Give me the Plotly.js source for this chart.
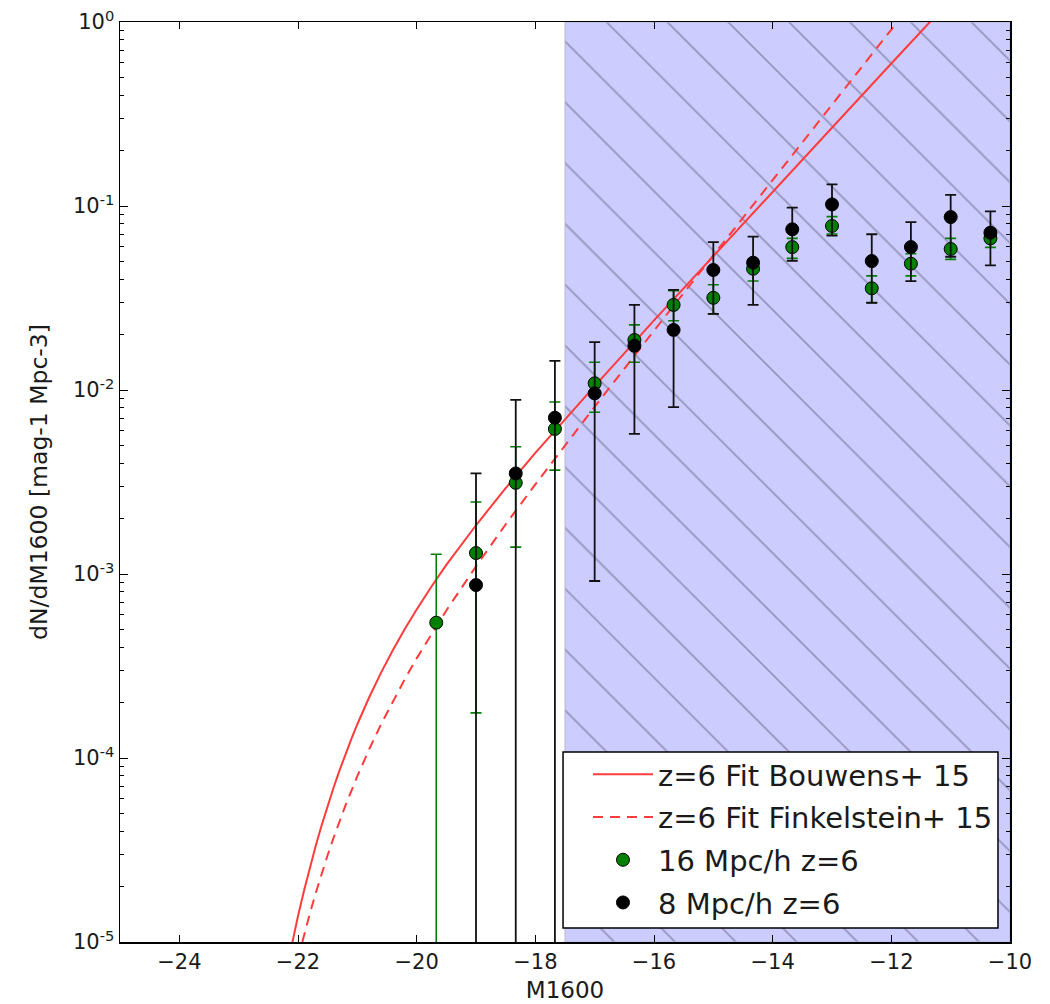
<!DOCTYPE html>
<html>
<head>
<meta charset="utf-8">
<script src="https://cdn.plot.ly/plotly-3.0.1.min.js"></script>
<style>html,body{margin:0;padding:0;background:#fff;}#chart{width:1050px;height:1004px;}</style>
</head>
<body>
<div id="chart"></div>
<script>
// Magnitude bins of the simulated luminosity functions
const M_bins = [-19.67, -19.0, -18.33, -17.67, -17.0, -16.33, -15.67, -15.0, -14.33, -13.67, -13.0, -12.33, -11.67, -11.0, -10.33];

// 16 Mpc/h z=6 (green)
const phi16    = [5.44e-4, 1.30e-3, 3.13e-3, 6.14e-3, 1.087e-2, 1.87e-2, 2.90e-2, 3.17e-2, 4.56e-2, 5.98e-2, 7.79e-2, 3.57e-2, 4.86e-2, 5.84e-2, 6.67e-2];
const phi16_hi = [1.28e-3, 2.46e-3, 4.92e-3, 8.6e-3, 1.415e-2, 2.26e-2, 3.47e-2, 3.73e-2, 5.1e-2, 6.67e-2, 8.75e-2, 4.17e-2, 5.5e-2, 6.67e-2, 7.4e-2];
const phi16_lo = [1e-8, 1.76e-4, 1.40e-3, 3.67e-3, 7.57e-3, 1.415e-2, 2.38e-2, 2.59e-2, 3.91e-2, 5.2e-2, 7.04e-2, 2.98e-2, 4.17e-2, 5.13e-2, 5.96e-2];

// 8 Mpc/h z=6 (black)
const phi8    = [null, 8.71e-4, 3.52e-3, 7.07e-3, 9.59e-3, 1.74e-2, 2.12e-2, 4.49e-2, 4.92e-2, 7.47e-2, 0.102, 5.02e-2, 5.98e-2, 8.71e-2, 7.16e-2];
const phi8_hi = [null, 3.52e-3, 8.83e-3, 1.44e-2, 1.82e-2, 2.9e-2, 3.5e-2, 6.37e-2, 6.81e-2, 9.8e-2, 0.131, 7.02e-2, 8.18e-2, 0.1148, 9.36e-2];
const phi8_lo = [null, 1e-8, 1e-8, 1e-8, 9.16e-4, 5.77e-3, 8.08e-3, 2.59e-2, 2.9e-2, 5.04e-2, 6.9e-2, 2.98e-2, 3.91e-2, 5.3e-2, 4.76e-2];

// z=6 fit, Bouwens+ 15
const M_bouwens   = [-22.2, -22.1, -22.0, -21.9, -21.8, -21.7, -21.6, -21.5, -21.4, -21.3, -21.2, -21.1, -21.0, -20.8, -20.6, -20.4, -20.2, -20.0, -19.75, -19.5, -19.0, -18.5, -18.0, -17.5, -17.0, -16.0, -15.0, -14.0, -13.0, -12.0, -11.3];
const phi_bouwens = [6.89e-6, 9.89e-6, 1.384e-5, 1.895e-5, 2.541e-5, 3.342e-5, 4.322e-5, 5.51e-5, 6.91e-5, 8.57e-5, 1.049e-4, 1.271e-4, 1.526e-4, 2.139e-4, 2.911e-4, 3.864e-4, 5.02e-4, 6.42e-4, 8.55e-4, 1.12e-3, 1.84e-3, 2.93e-3, 4.55e-3, 6.95e-3, 1.05e-2, 2.39e-2, 5.35e-2, 0.120, 0.267, 0.595, 1.04];

// z=6 fit, Finkelstein+ 15
const M_finkel   = [-22.0, -21.9, -21.8, -21.7, -21.6, -21.5, -21.4, -21.3, -21.2, -21.0, -20.8, -20.6, -20.4, -20.2, -20.0, -19.75, -19.5, -19.0, -18.5, -18.0, -17.5, -17.0, -16.0, -15.0, -14.0, -13.0, -12.0, -11.8];
const phi_finkel = [8.15e-6, 1.089e-5, 1.429e-5, 1.85e-5, 2.357e-5, 2.97e-5, 3.687e-5, 4.535e-5, 5.52e-5, 7.97e-5, 1.116e-4, 1.526e-4, 2.041e-4, 2.684e-4, 3.48e-4, 4.73e-4, 6.34e-4, 1.10e-3, 1.86e-3, 3.07e-3, 5.0e-3, 8.11e-3, 2.10e-2, 5.41e-2, 0.139, 0.355, 0.91, 1.10];

// Shaded (unresolved) magnitude range
const shade_M   = [-17.5, -10.0];
const shade_phi = [1e-5, 1.0];

// Axis ticks
const x_ticks = [-24, -22, -20, -18, -16, -14, -12, -10];
const y_ticks = [1e-5, 1e-4, 1e-3, 1e-2, 1e-1, 1];
const y_ticktext = ['10<sup>-5</sup>', '10<sup>-4</sup>', '10<sup>-3</sup>', '10<sup>-2</sup>', '10<sup>-1</sup>', '10<sup>0</sup>'];

const minorVals = [];
for (let e = -5; e < 0; e++) for (let k = 2; k <= 9; k++) minorVals.push(k * Math.pow(10, e));

const plus = (hi, y) => hi.map((h, i) => (h == null || y[i] == null) ? null : h - y[i]);
const minus = (lo, y) => lo.map((l, i) => (l == null || y[i] == null) ? null : y[i] - l);

const FONT = 'DejaVu Sans, sans-serif';
const TXT = '#1a1a1a';

const traces = [
  {
    x: [shade_M[0], shade_M[1], shade_M[1], shade_M[0], shade_M[0]],
    y: [shade_phi[0], shade_phi[0], shade_phi[1], shade_phi[1], shade_phi[0]],
    type: 'scatter', mode: 'lines', fill: 'toself',
    fillcolor: '#ccccff',
    fillpattern: {shape: '\\', size: 43, solidity: 0.04, fgcolor: '#9494bb', bgcolor: '#ccccff', fillmode: 'replace'},
    line: {color: '#b8b8d0', width: 1},
    showlegend: false, hoverinfo: 'skip'
  },
  {
    x: M_bouwens, y: phi_bouwens, type: 'scatter', mode: 'lines',
    name: 'z=6 Fit Bouwens+ 15', legendgroup: 'a',
    line: {color: '#ff3b3b', width: 2}
  },
  {
    x: M_finkel, y: phi_finkel, type: 'scatter', mode: 'lines',
    name: 'z=6 Fit Finkelstein+ 15', legendgroup: 'b',
    line: {color: '#ff3b3b', width: 2, dash: '10px,7px'}
  },
  {
    x: M_bins, y: phi16, type: 'scatter', mode: 'markers',
    name: '16 Mpc/h z=6', legendgroup: 'c',
    marker: {color: '#008000', size: 13, line: {color: '#000', width: 1}},
    error_y: {type: 'data', symmetric: false, array: plus(phi16_hi, phi16), arrayminus: minus(phi16_lo, phi16),
              color: '#008000', thickness: 1.6, width: 5.5}
  },
  {
    x: M_bins, y: phi8, type: 'scatter', mode: 'markers',
    name: '8 Mpc/h z=6', legendgroup: 'd',
    marker: {color: '#000000', size: 13, line: {color: '#000', width: 1}},
    error_y: {type: 'data', symmetric: false, array: plus(phi8_hi, phi8), arrayminus: minus(phi8_lo, phi8),
              color: '#111', thickness: 1.8, width: 5.5}
  }
];

const layout = {
  width: 1050, height: 1004,
  margin: {l: 120, r: 40, t: 22, b: 62, pad: 0},
  paper_bgcolor: '#fff', plot_bgcolor: '#fff',
  font: {family: FONT, color: TXT, size: 21},
  showlegend: true,
  legend: {
    x: 0.9865, xanchor: 'right', y: 0.0152, yanchor: 'bottom',
    bgcolor: 'rgba(0,0,0,0)', borderwidth: 0,
    font: {family: FONT, size: 29, color: TXT},
    traceorder: 'grouped', tracegroupgap: 2, itemwidth: 60
  },
  shapes: [{
    type: 'rect', xref: 'paper', yref: 'paper', layer: 'above',
    x0: 0.4978, x1: 0.9865, y0: 0.0152, y1: 0.2065,
    fillcolor: '#ffffff', line: {color: '#000', width: 1.5}
  }],
  xaxis: {
    range: [-25, -10], tickmode: 'array', tickvals: x_ticks,
    ticks: 'inside', ticklen: 7, tickwidth: 1, tickcolor: '#000',
    showline: true, linecolor: '#000', linewidth: 1.5, mirror: 'allticks',
    showgrid: false, zeroline: false,
    tickfont: {family: FONT, size: 21, color: TXT},
    title: {text: 'M1600', font: {family: FONT, size: 23, color: TXT}, standoff: 9}
  },
  yaxis: {
    type: 'log', range: [-5, 0], tickmode: 'array', tickvals: y_ticks, ticktext: y_ticktext,
    ticks: 'inside', ticklen: 8, tickwidth: 1, tickcolor: '#000',
    minor: {tickmode: 'array', tickvals: minorVals, ticks: 'inside', ticklen: 4, tickcolor: '#000', tickwidth: 1, showgrid: false},
    showline: true, linecolor: '#000', linewidth: 1.5, mirror: 'allticks',
    showgrid: false, zeroline: false,
    tickfont: {family: FONT, size: 21, color: TXT},
    title: {text: 'dN/dM1600 [mag-1 Mpc-3]', font: {family: FONT, size: 23.5, color: TXT}, standoff: 18}
  }
};

Plotly.newPlot('chart', traces, layout, {displayModeBar: false, staticPlot: true});
</script>
</body>
</html>
